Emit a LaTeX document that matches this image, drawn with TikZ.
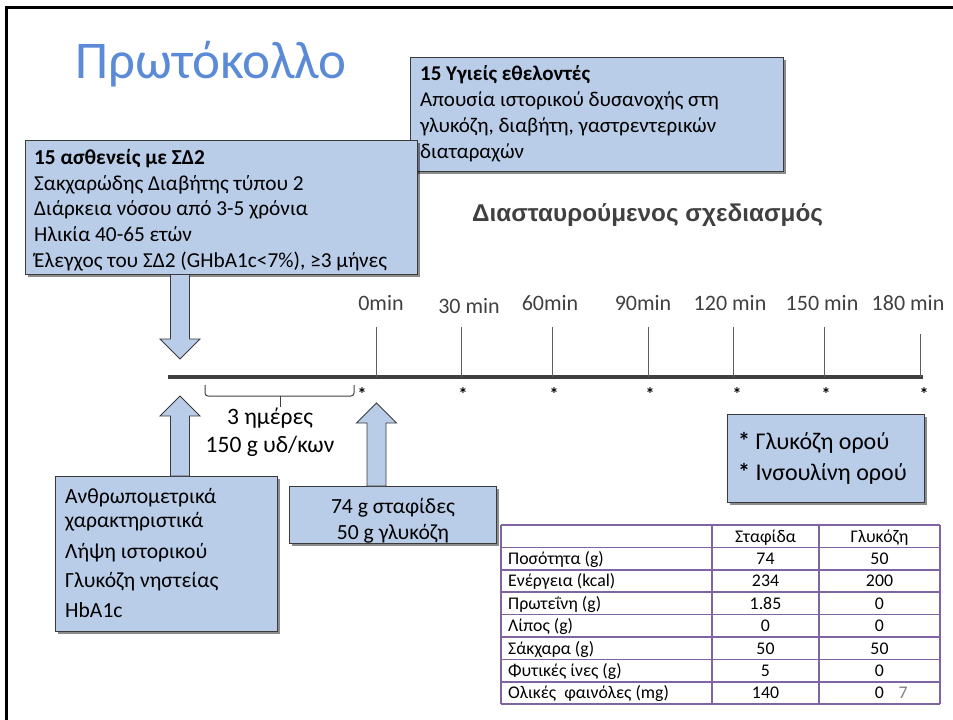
\documentclass[tikz,border=0pt]{standalone}
\usepackage{fontspec}
\setmainfont{Carlito}
\newfontfamily\headfont{Liberation Sans}
\usetikzlibrary{shadows}
\definecolor{boxblue}{HTML}{B9CDE9}
\definecolor{edgegray}{HTML}{3A3A3A}
\definecolor{titleblue}{HTML}{5B8BD7}
\definecolor{darkgrayfour}{HTML}{404040}
\definecolor{tablepurple}{HTML}{8064A2}
\tikzset{
  infobox/.style={draw=edgegray, line width=1pt, fill=boxblue,
    drop shadow={shadow xshift=2.5pt, shadow yshift=-2.5pt, opacity=0.45, fill=black},
    anchor=north west, inner sep=0pt},
  boxtext/.style={anchor=base west, inner sep=0pt, align=left, text=black},
  blockarrow/.style={draw=edgegray, line width=0.9pt, fill=boxblue, line join=miter},
  ticks/.style={draw=darkgrayfour!85, line width=1pt},
  timelabel/.style={font=\fontsize{22}{26}\selectfont, text=darkgrayfour, inner sep=0pt, anchor=base},
  starmark/.style={font=\fontsize{18}{20}\selectfont\bfseries, inner sep=0pt},
  cell/.style={font=\fontsize{17.8}{20}\selectfont, inner sep=0pt, anchor=base},
  grid/.style={draw=tablepurple, line width=1.5pt},
}
\begin{document}
\begin{tikzpicture}[x=1pt,y=-1pt]
\useasboundingbox (0,0) rectangle (953,720);
% slide frame
\draw[line width=3pt] (6,720) -- (6,7) -- (953,7);
% title
\node[anchor=base west, inner sep=0pt, text=titleblue, font=\fontsize{53}{60}\selectfont] (title) at (75,78) {Πρωτόκολλο};

% healthy volunteers box
\node[infobox, minimum width=373pt, minimum height=114pt] (healthy) at (410,57) {};
\node[boxtext, font=\fontsize{21}{25.7}\selectfont] (healthytxt) at (420,158)
  {\textbf{15 Υγιείς εθελοντές}\\Απουσία ιστορικού δυσανοχής στη\\γλυκόζη, διαβήτη, γαστρεντερικών\\διαταραχών};

% patients box
\node[infobox, minimum width=392pt, minimum height=134pt] (patients) at (25,140) {};
\node[boxtext, font=\fontsize{21.3}{25.6}\selectfont] (patientstxt) at (34,267)
  {\textbf{15 ασθενείς με ΣΔ2}\\Σακχαρώδης Διαβήτης τύπου 2\\Διάρκεια νόσου από 3-5 χρόνια\\Ηλικία 40-65 ετών\\Έλεγχος του ΣΔ2 (GHbA1c<7\%), ≥3 μήνες};

% heading
\node[anchor=base west, inner sep=0pt, text=darkgrayfour, font=\headfont\bfseries\fontsize{24.3}{28}\selectfont] (design) at (472,221) {Διασταυρούμενος σχεδιασμός};

% timeline
\coordinate (tlstart) at (168,377);
\coordinate (tlend) at (923,377);
\draw[draw=darkgrayfour, line width=3.5pt] (tlstart) -- (tlend);

\foreach \x/\lab/\lx/\ly/\sx/\nm in {376/0min/381/310.5/362/t0, 461/30 min/469/313.3/463/t30, 552/60min/550/310.5/554/t60, 648/90min/643/310.5/650/t90, 733/120 min/730/310.5/737/t120, 824/150 min/822/310.5/826/t150}{
  \coordinate (\nm top) at (\x,327);
  \coordinate (\nm bot) at (\x,377);
  \draw[ticks] (\nm top) -- (\nm bot);
  \node[timelabel] (\nm lab) at (\lx,\ly) {\lab};
  \node[starmark] (\nm star) at (\sx,394) {*};
}
\coordinate (t180top) at (920,334);
\coordinate (t180bot) at (920,377);
\draw[ticks] (t180top) -- (t180bot);
\node[timelabel] (t180lab) at (908,310.5) {180 min};
\node[starmark] (t180star) at (924,394) {*};

% brace
\coordinate (brl) at (205,385);
\coordinate (brr) at (354,385);
\coordinate (brm) at (280,396);
\coordinate (brtip) at (280,407);
\draw[draw=darkgrayfour, line width=1pt, rounded corners=3pt] (brl) -- (205,396) -- (354,396) -- (brr);
\draw[draw=darkgrayfour, line width=1pt] (brm) -- (brtip);
\node[anchor=base, inner sep=0pt, align=center, font=\fontsize{23.5}{28}\selectfont] (diet) at (270,452) {3 ημέρες\\150 g υδ/κων};

% down arrow from patients box to timeline
\draw[blockarrow] (170.5,274.5) -- (189.5,274.5) -- (189.5,339) -- (200,339) -- (180,359) -- (160,339) -- (170.5,339) -- cycle;

% bottom-left box
\node[infobox, minimum width=222pt, minimum height=155pt] (baseline) at (55,476) {};
\node[boxtext, font=\fontsize{21.6}{24}\selectfont] (baselinetxt) at (65,617.5)
  {Ανθρωπομετρικά\\χαρακτηριστικά\\[7pt]Λήψη ιστορικού\\[5pt]Γλυκόζη νηστείας\\[6pt]HbA1c};
% up arrow from baseline box to timeline
\draw[blockarrow] (170.5,476) -- (189.5,476) -- (189.5,416) -- (200,416) -- (180,396) -- (160,416) -- (170.5,416) -- cycle;

% test meal box
\node[infobox, minimum width=207pt, minimum height=57pt] (meal) at (289,486) {};
\node[anchor=base, inner sep=0pt, align=center, font=\fontsize{21.6}{26}\selectfont] (mealtxt) at (393,539) {74 g σταφίδες\\50 g γλυκόζη};
% up arrow from meal box to 0 min
\draw[blockarrow] (367,486) -- (386,486) -- (386,423) -- (396.5,423) -- (376.5,403) -- (356.5,423) -- (367,423) -- cycle;

% legend box
\node[infobox, minimum width=197pt, minimum height=88pt] (legend) at (727,414) {};
\node[boxtext, font=\fontsize{24}{31}\selectfont] (legendtxt) at (738,480)
  {\textbf{*} Γλυκόζη ορού\\\textbf{*} Ινσουλίνη ορού};

% table
\fill[white] (501,525) rectangle (940,704.2);
\foreach \yy in {525,547.4,569.8,592.2,614.6,637,659.4,681.8,704.2}{
  \draw[grid] (501,\yy) -- (940,\yy);
}
\foreach \xx in {501,712,819,940}{
  \draw[grid] (\xx,525) -- (\xx,704.2);
}
\node[cell] (h2) at (765.5,542) {Σταφίδα};
\node[cell] (h3) at (879.5,542) {Γλυκόζη};
\foreach \i/\a/\b/\c in {1/Ποσότητα (g)/74/50, 2/Ενέργεια (kcal)/234/200, 3/Πρωτεΐνη (g)/1.85/0, 4/Λίπος (g)/0/0, 5/Σάκχαρα (g)/50/50, 6/Φυτικές ίνες (g)/5/0, 7/Ολικές\ \ φαινόλες (mg)/140/0}{
  \pgfmathsetmacro{\by}{542+22.4*\i}
  \node[cell, anchor=base west] (r\i c1) at (508,\by) {\a};
  \node[cell] (r\i c2) at (765.5,\by) {\b};
  \node[cell] (r\i c3) at (879.5,\by) {\c};
}
\node[cell, text=gray] (pagenum) at (903,698.8) {7};
\end{tikzpicture}
\end{document}
